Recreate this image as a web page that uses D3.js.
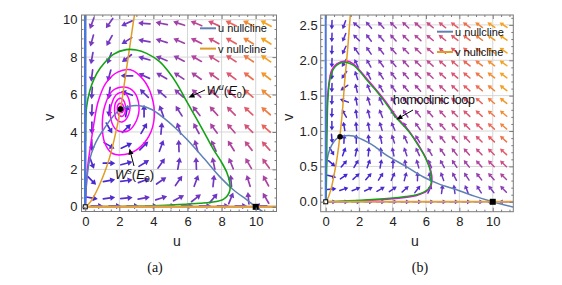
<!DOCTYPE html>
<html>
<head>
<meta charset="utf-8">
<script src="https://cdn.jsdelivr.net/npm/d3@7"></script>
<style>
body { margin: 0; background: #fff; }
svg { display: block; }
text { font-family: "Liberation Sans", Arial, sans-serif; }
</style>
</head>
<body>
<svg id="chart" width="562" height="285"></svg>
<script>
// ---------- panel (a) data ----------
const aColsU = [0.39, 1.41, 2.43, 3.45, 4.47, 5.49, 6.51, 7.53, 8.55, 9.57, 10.59];
const aRowsV = [9.8, 8.87, 7.93, 7.0, 6.07, 5.13, 4.2, 3.27, 2.33, 1.4, 0.47];
// arrow direction in degrees (0 = +u, 90 = +v), one row per aRowsV entry
const aAngles = [
  [250, 235, 205, 175, 168, 162, 158, 156, 154, 153, 152],
  [255, 242, 212, 170, 163, 157, 154, 152, 150, 149, 148],
  [260, 250, 218, 165, 158, 153, 150, 148, 147, 146, 145],
  [263, 255, 180, 155, 150, 147, 145, 144, 143, 142, 142],
  [266, 262, 160, 135, 138, 138, 138, 138, 138, 139, 140],
  [268, 265, 80, 90, 110, 122, 128, 132, 135, 137, 139],
  [270, 300, 45, 60, 85, 108, 118, 126, 131, 135, 138],
  [272, 330, 25, 45, 70, 92, 105, 114, 122, 128, 132],
  [290, 0, 15, 32, 55, 80, 92, 102, 112, 120, 126],
  [315, 10, 8, 20, 35, 55, 70, 84, 95, 107, 118],
  [350, 8, 5, 10, 18, 28, 38, 50, 68, 95, 120]
];
// speed level 0..1 (colour)
const aLevels = [
  [0.35, 0.33, 0.3, 0.35, 0.42, 0.48, 0.57, 0.67, 0.77, 0.87, 0.96],
  [0.33, 0.31, 0.28, 0.33, 0.4, 0.47, 0.55, 0.65, 0.75, 0.85, 0.94],
  [0.31, 0.28, 0.25, 0.31, 0.38, 0.45, 0.53, 0.63, 0.73, 0.83, 0.92],
  [0.28, 0.25, 0.2, 0.28, 0.36, 0.43, 0.51, 0.61, 0.7, 0.8, 0.9],
  [0.25, 0.2, 0.12, 0.22, 0.32, 0.4, 0.48, 0.58, 0.67, 0.77, 0.87],
  [0.22, 0.12, 0.05, 0.14, 0.27, 0.36, 0.45, 0.54, 0.63, 0.73, 0.83],
  [0.18, 0.1, 0.08, 0.13, 0.22, 0.32, 0.41, 0.5, 0.58, 0.67, 0.77],
  [0.15, 0.1, 0.1, 0.15, 0.21, 0.28, 0.36, 0.44, 0.52, 0.6, 0.69],
  [0.12, 0.1, 0.12, 0.17, 0.22, 0.26, 0.31, 0.38, 0.45, 0.53, 0.61],
  [0.1, 0.12, 0.16, 0.2, 0.24, 0.26, 0.28, 0.31, 0.36, 0.44, 0.52],
  [0.1, 0.15, 0.2, 0.24, 0.27, 0.29, 0.29, 0.28, 0.3, 0.36, 0.44]
];
const aBottomU = [0.7, 1.75, 2.8, 3.9, 4.95, 6.0, 7.05, 8.1, 9.15, 10.3];
const aBottomV = 0.05;
const aBottomAngles = [0, 0, 0, 0, 0, 0, 0, 0, 0, 180];
const aBottomLevels = [0.08, 0.13, 0.18, 0.22, 0.25, 0.27, 0.27, 0.25, 0.2, 0.12];

const aUNull = [[0, 0.3], [0.05, 1.0], [0.12, 1.7], [0.27, 2.55], [0.5, 3.2], [0.8, 3.75], [1.2, 4.3],
  [1.6, 4.8], [2.07, 5.22], [2.6, 5.38], [3.2, 5.4], [3.9, 5.2], [4.6, 4.75], [5.3, 4.2], [6.0, 3.57],
  [7.0, 2.55], [7.9, 1.6], [8.7, 0.9], [9.5, 0.36], [10, 0], [10.4, -0.25]];
const aVNull = [[0, 0], [0.2, 0.15], [0.5, 0.55], [0.8, 1.1], [1.1, 1.75], [1.4, 2.55], [1.7, 3.6],
  [2.07, 5.22], [2.25, 6.3], [2.44, 7.5], [2.65, 8.8], [2.86, 10.1], [2.9, 10.3]];
const aUnstable = [[0, 0], [2, 0.02], [4, 0.06], [5.5, 0.12], [6.73, 0.19], [7.6, 0.27], [8.1, 0.4],
  [8.35, 0.6], [8.49, 0.9], [8.45, 1.4], [8.3, 1.85], [7.95, 2.45], [7.5, 3.1], [6.9, 4.1], [6.24, 5.17],
  [5.85, 5.8], [5.36, 6.6], [4.9, 7.2], [4.38, 7.75], [3.6, 8.2], [3.0, 8.38], [2.4, 8.4], [1.65, 8.15],
  [0.87, 7.4], [0.5, 6.8], [0.28, 6.24], [0.08, 5.35], [0.03, 4.5], [0.02, 3.5]];
const aStable = [[2.07, 5.22], [2.12, 5.18], [2.16, 5.28], [2.08, 5.38], [1.99, 5.26], [2.03, 5.08],
  [2.18, 5.05], [2.26, 5.25], [2.16, 5.5], [1.96, 5.5], [1.88, 5.2], [1.97, 4.9], [2.2, 4.85], [2.36, 5.15],
  [2.3, 5.6], [2.08, 5.8], [1.8, 5.6], [1.72, 5.15], [1.85, 4.65], [2.2, 4.55], [2.55, 4.95], [2.6, 5.6],
  [2.35, 6.05], [1.9, 6.05], [1.55, 5.5], [1.5, 4.7], [1.85, 4.1], [2.5, 4.05], [3.0, 4.6], [3.15, 5.4],
  [2.85, 6.15], [2.3, 6.4], [1.6, 6.2], [1.15, 5.4], [1.0, 4.4], [1.15, 3.4], [1.6, 2.85], [2.3, 2.8],
  [3.1, 3.1], [3.75, 3.8], [4.05, 4.8], [3.9, 5.9], [3.4, 6.8], [2.65, 7.32], [1.9, 7.2], [1.2, 6.6],
  [0.75, 5.6], [0.5, 4.4], [0.3, 3.2], [0.15, 2.2], [0.07, 1.2], [0.02, 0.4], [0, 0]];
const aEquilibria = [[2.07, 5.22]];
const aTicksX = [0, 2, 4, 6, 8, 10];
const aTicksY = [0, 2, 4, 6, 8, 10];

// ---------- panel (b) data ----------
const bColsU = [0.37, 1.1, 1.83, 2.57, 3.3, 4.03, 4.77, 5.5, 6.23, 6.97, 7.7, 8.43, 9.17, 9.9, 10.63];
const bRowsV = [2.5, 2.32, 2.14, 1.96, 1.79, 1.61, 1.43, 1.25, 1.07, 0.89, 0.71, 0.54, 0.36, 0.18, 0.0];
const bAngles = [
  [268, 250, 140, 130, 132, 135, 137, 139, 140, 141, 142, 143, 144, 145, 146],
  [268, 248, 135, 127, 130, 133, 136, 138, 140, 141, 142, 143, 144, 145, 146],
  [268, 245, 125, 124, 128, 132, 135, 137, 139, 140, 141, 142, 143, 144, 145],
  [268, 240, 115, 120, 126, 130, 133, 136, 138, 139, 140, 141, 142, 143, 144],
  [268, 235, 108, 116, 123, 128, 132, 135, 137, 138, 139, 140, 141, 142, 143],
  [268, 215, 103, 112, 120, 126, 130, 133, 135, 137, 138, 139, 140, 141, 142],
  [268, 160, 100, 108, 116, 122, 127, 131, 133, 135, 137, 138, 139, 140, 141],
  [268, 120, 98, 104, 112, 119, 124, 128, 131, 133, 135, 137, 138, 139, 140],
  [270, 100, 95, 100, 107, 114, 120, 125, 128, 131, 133, 135, 137, 138, 139],
  [275, 88, 90, 95, 102, 109, 115, 121, 125, 128, 131, 133, 135, 137, 138],
  [300, 70, 78, 85, 93, 102, 109, 115, 120, 125, 128, 131, 133, 135, 137],
  [320, 50, 60, 70, 80, 88, 98, 106, 113, 119, 124, 128, 131, 134, 136],
  [345, 35, 42, 50, 58, 66, 75, 88, 100, 110, 118, 124, 128, 132, 135],
  [5, 18, 22, 26, 30, 35, 42, 52, 65, 82, 98, 112, 122, 128, 134],
  [0, 0, 0, 0, 0, 0, 0, 0, 0, 0, 0, 0, 0, 180, 180]
];
const bLevels = [
  [0.12, 0.2, 0.28, 0.33, 0.38, 0.44, 0.5, 0.56, 0.62, 0.68, 0.74, 0.8, 0.86, 0.92, 0.98],
  [0.12, 0.19, 0.27, 0.32, 0.37, 0.43, 0.49, 0.55, 0.61, 0.67, 0.73, 0.79, 0.85, 0.91, 0.97],
  [0.11, 0.18, 0.25, 0.31, 0.36, 0.42, 0.48, 0.54, 0.6, 0.66, 0.72, 0.78, 0.84, 0.9, 0.96],
  [0.11, 0.17, 0.23, 0.3, 0.35, 0.41, 0.47, 0.53, 0.59, 0.65, 0.71, 0.77, 0.83, 0.89, 0.95],
  [0.1, 0.16, 0.21, 0.28, 0.34, 0.4, 0.46, 0.52, 0.58, 0.64, 0.7, 0.76, 0.82, 0.88, 0.94],
  [0.1, 0.14, 0.19, 0.26, 0.32, 0.38, 0.44, 0.5, 0.56, 0.62, 0.68, 0.74, 0.8, 0.86, 0.92],
  [0.09, 0.12, 0.17, 0.24, 0.3, 0.36, 0.42, 0.48, 0.54, 0.6, 0.66, 0.72, 0.78, 0.84, 0.9],
  [0.09, 0.1, 0.15, 0.22, 0.28, 0.34, 0.4, 0.46, 0.52, 0.58, 0.64, 0.7, 0.76, 0.82, 0.88],
  [0.08, 0.08, 0.13, 0.19, 0.25, 0.31, 0.37, 0.43, 0.49, 0.55, 0.61, 0.67, 0.73, 0.79, 0.85],
  [0.08, 0.06, 0.1, 0.16, 0.22, 0.28, 0.34, 0.4, 0.46, 0.52, 0.58, 0.63, 0.69, 0.75, 0.81],
  [0.07, 0.06, 0.09, 0.13, 0.18, 0.24, 0.3, 0.35, 0.41, 0.46, 0.52, 0.57, 0.63, 0.68, 0.74],
  [0.06, 0.06, 0.08, 0.11, 0.15, 0.2, 0.25, 0.3, 0.34, 0.39, 0.44, 0.49, 0.54, 0.59, 0.64],
  [0.05, 0.06, 0.08, 0.1, 0.13, 0.16, 0.2, 0.24, 0.27, 0.31, 0.35, 0.39, 0.43, 0.47, 0.52],
  [0.04, 0.06, 0.08, 0.1, 0.12, 0.14, 0.16, 0.18, 0.2, 0.23, 0.26, 0.29, 0.32, 0.35, 0.4],
  [0.03, 0.06, 0.08, 0.1, 0.12, 0.14, 0.16, 0.18, 0.19, 0.2, 0.2, 0.19, 0.17, 0.12, 0.15]
];
const bUNull = [[0, 0.42], [0.06, 0.55], [0.16, 0.68], [0.36, 0.8], [0.6, 0.88], [0.86, 0.92], [1.2, 0.935],
  [1.65, 0.93], [2.53, 0.84], [3.0, 0.77], [3.63, 0.66], [4.8, 0.5], [5.85, 0.35], [6.8, 0.25],
  [7.84, 0.17], [8.9, 0.08], [10, 0], [11.3, -0.08]];
const bVNull = [[0, 0], [0.15, 0.06], [0.34, 0.2], [0.5, 0.38], [0.66, 0.59], [0.84, 0.91], [1.0, 1.28],
  [1.14, 1.71], [1.3, 2.12], [1.44, 2.54], [1.48, 2.66]];
const bLoopGreen = [[0, 0], [0.5, 0.005], [1.86, 0.02], [3.0, 0.035], [3.85, 0.05], [4.8, 0.075], [5.45, 0.1],
  [5.9, 0.14], [6.14, 0.18], [6.3, 0.25], [6.33, 0.32], [6.25, 0.45], [6.05, 0.58], [5.84, 0.68],
  [5.45, 0.83], [5.05, 0.97], [4.65, 1.08], [4.25, 1.18], [3.85, 1.31], [3.45, 1.44], [2.95, 1.59],
  [2.46, 1.72], [2.05, 1.84], [1.65, 1.93], [1.26, 1.97], [0.95, 1.97], [0.66, 1.93], [0.45, 1.87],
  [0.3, 1.78], [0.2, 1.65], [0.12, 1.4], [0.09, 1.1], [0.07, 0.8], [0.06, 0.5], [0.04, 0.25],
  [0.02, 0.08], [0, 0]];
const bLoopMagenta = [[0, 0], [0.5, 0], [1.86, 0.01], [3.85, 0.04], [5.45, 0.09], [6.2, 0.18], [6.36, 0.3],
  [6.28, 0.45], [5.86, 0.68], [5.05, 0.98], [4.25, 1.2], [3.45, 1.46], [2.46, 1.74], [1.65, 1.95],
  [1.26, 1.99], [0.66, 1.95], [0.36, 1.86], [0.18, 1.65], [0.08, 1.35], [0.04, 1.0], [0.03, 0.5],
  [0.01, 0.1], [0, 0]];
const bEquilibria = [[0.86, 0.92]];
const bTicksX = [0, 2, 4, 6, 8, 10];
const bTicksY = [0, 0.5, 1.0, 1.5, 2.0, 2.5];

const svg = d3.select("#chart");

const speedColor = d3.scaleLinear()
  .domain([0, 0.3, 0.55, 0.75, 0.93])
  .range(["#3322d8", "#7138c2", "#b5459d", "#e75d64", "#f5a31f"])
  .clamp(true);

let clipId = 0;

function drawPanel(p) {
  const x = d3.scaleLinear().domain(p.udom).range([p.left, p.right]);
  const y = d3.scaleLinear().domain(p.vdom).range([p.bottom, p.top]);
  const g = svg.append("g");

  const id = "clip" + (clipId++);
  g.append("clipPath").attr("id", id).append("rect")
    .attr("x", p.left).attr("y", p.top)
    .attr("width", p.right - p.left).attr("height", p.bottom - p.top);

  const plot = g.append("g").attr("clip-path", `url(#${id})`);

  // grid lines
  plot.selectAll(".gx").data(p.ticksX).enter().append("line")
    .attr("x1", d => x(d)).attr("x2", d => x(d))
    .attr("y1", p.top).attr("y2", p.bottom)
    .attr("stroke", "#d6d6d6").attr("stroke-width", 1);
  plot.selectAll(".gy").data(p.ticksY).enter().append("line")
    .attr("y1", d => y(d)).attr("y2", d => y(d))
    .attr("x1", p.left).attr("x2", p.right)
    .attr("stroke", "#d6d6d6").attr("stroke-width", 1);

  // vector field
  const arrows = [];
  p.rowsV.forEach((v, i) => {
    p.colsU.forEach((u, j) => {
      arrows.push({u: u, v: v, a: p.angles[i][j], s: p.levels[i][j]});
    });
  });
  if (p.extra) arrows.push(...p.extra);

  const L = p.arrowLen, H = p.headLen, W = p.headW;
  const field = plot.append("g");
  arrows.forEach(d => {
    const cx = x(d.u), cy = y(d.v);
    const t = d.a * Math.PI / 180;
    const dx = Math.cos(t), dy = -Math.sin(t);
    const x0 = cx - dx * L / 2, y0 = cy - dy * L / 2;
    const x1 = cx + dx * L / 2, y1 = cy + dy * L / 2;
    const bx = x1 - dx * H, by = y1 - dy * H;
    const c = speedColor(d.s);
    field.append("line")
      .attr("x1", x0).attr("y1", y0).attr("x2", bx).attr("y2", by)
      .attr("stroke", c).attr("stroke-width", p.arrowW).attr("stroke-linecap", "round");
    field.append("path")
      .attr("d", `M${x1},${y1}L${bx - dy * W},${by + dx * W}L${bx + dy * W},${by - dx * W}Z`)
      .attr("fill", c);
  });

  const line = d3.line().x(d => x(d[0])).y(d => y(d[1])).curve(d3.curveCatmullRom.alpha(0.5));

  p.curves.forEach(c => {
    plot.append("path").datum(c.data).attr("d", line)
      .attr("fill", "none").attr("stroke", c.color).attr("stroke-width", c.width)
      .attr("stroke-linejoin", "round");
  });

  // trivial nullclines u = 0 and v = 0
  plot.append("line")
    .attr("x1", x(0)).attr("x2", x(0)).attr("y1", y(0)).attr("y2", p.top)
    .attr("stroke", "#4a78d8").attr("stroke-width", p.axisLineW);
  plot.append("line")
    .attr("x1", x(0)).attr("x2", p.right).attr("y1", y(0)).attr("y2", y(0))
    .attr("stroke", "#dea04a").attr("stroke-width", p.axisLineW);

  // equilibria
  plot.selectAll(".eq").data(p.equilibria).enter().append("circle")
    .attr("cx", d => x(d[0])).attr("cy", d => y(d[1])).attr("r", 2.8).attr("fill", "#000");
  plot.append("rect").attr("x", x(10) - 3).attr("y", y(0) - 3).attr("width", 6).attr("height", 6)
    .attr("fill", "#000");
  plot.append("rect").attr("x", x(0) - 2).attr("y", y(0) - 2).attr("width", 4).attr("height", 4)
    .attr("fill", "#fff").attr("stroke", "#000").attr("stroke-width", 1);

  // frame and ticks
  const frameColor = "#7a7a7a";
  const minorX = d3.range(0, 11.01, 0.5).filter(d => !p.ticksX.includes(d));
  const minorY = d3.range(0, p.vdom[1], p.minorStepY).map(d => +d.toFixed(3))
    .filter(d => !p.ticksY.some(t => Math.abs(t - d) < 1e-6));

  function styleAxis(sel) {
    sel.select(".domain").remove();
    sel.selectAll(".tick line").attr("stroke", frameColor);
    sel.selectAll("text").attr("fill", "#222").attr("font-size", 13);
  }

  const bottomG = g.append("g").attr("transform", `translate(0,${p.bottom})`)
    .call(d3.axisBottom(x).tickValues(p.ticksX).tickSize(-4).tickPadding(5).tickFormat(p.fmtX));
  styleAxis(bottomG);
  const bottomMinor = g.append("g").attr("transform", `translate(0,${p.bottom})`)
    .call(d3.axisBottom(x).tickValues(minorX).tickSize(-2).tickFormat(""));
  styleAxis(bottomMinor);
  const topG = g.append("g").attr("transform", `translate(0,${p.top})`)
    .call(d3.axisTop(x).tickValues(p.ticksX).tickSize(-4).tickFormat(""));
  styleAxis(topG);
  const topMinor = g.append("g").attr("transform", `translate(0,${p.top})`)
    .call(d3.axisTop(x).tickValues(minorX).tickSize(-2).tickFormat(""));
  styleAxis(topMinor);

  const leftG = g.append("g").attr("transform", `translate(${p.left},0)`)
    .call(d3.axisLeft(y).tickValues(p.ticksY).tickSize(-4).tickPadding(p.padY).tickFormat(p.fmtY));
  styleAxis(leftG);
  const leftMinor = g.append("g").attr("transform", `translate(${p.left},0)`)
    .call(d3.axisLeft(y).tickValues(minorY).tickSize(-2).tickFormat(""));
  styleAxis(leftMinor);
  const rightG = g.append("g").attr("transform", `translate(${p.right},0)`)
    .call(d3.axisRight(y).tickValues(p.ticksY).tickSize(-4).tickFormat(""));
  styleAxis(rightG);
  const rightMinor = g.append("g").attr("transform", `translate(${p.right},0)`)
    .call(d3.axisRight(y).tickValues(minorY).tickSize(-2).tickFormat(""));
  styleAxis(rightMinor);

  g.append("rect").attr("x", p.left).attr("y", p.top)
    .attr("width", p.right - p.left).attr("height", p.bottom - p.top)
    .attr("fill", "none").attr("stroke", frameColor).attr("stroke-width", 1);

  // axis titles
  g.append("text").attr("x", (p.left + p.right) / 2 - 2).attr("y", p.bottom + 34)
    .attr("text-anchor", "middle").attr("font-size", 14).attr("fill", "#222").text("u");
  g.append("text").attr("transform", `translate(${p.vLabelX},${(p.top + p.bottom) / 2 + 4}) rotate(-90)`)
    .attr("text-anchor", "middle").attr("font-size", 14).attr("fill", "#222").text("v");

  // caption
  g.append("text").attr("x", p.captionX).attr("y", 272)
    .attr("text-anchor", "middle").attr("font-size", 14)
    .style("font-family", "'Liberation Serif', 'Times New Roman', serif").attr("fill", "#111")
    .text(p.caption);

  // legend
  const leg = [{label: "u nullcline", color: "#5e81b5"}, {label: "v nullcline", color: "#e19c24"}];
  leg.forEach((d, i) => {
    const ly = p.legY + i * 20.3;
    g.append("line").attr("x1", p.legX).attr("x2", p.legX + 16).attr("y1", ly).attr("y2", ly)
      .attr("stroke", d.color).attr("stroke-width", 2);
    g.append("text").attr("x", p.legX + 18).attr("y", ly + 4).attr("font-size", 11)
      .attr("fill", "#111").text(d.label);
  });

  return {g, x, y};
}

function pointer(g, x1, y1, x2, y2) {
  const t = Math.atan2(y2 - y1, x2 - x1);
  const H = 6, W = 2.6;
  const bx = x2 - Math.cos(t) * H, by = y2 - Math.sin(t) * H;
  g.append("line").attr("x1", x1).attr("y1", y1).attr("x2", bx).attr("y2", by)
    .attr("stroke", "#000").attr("stroke-width", 1);
  g.append("path")
    .attr("d", `M${x2},${y2}L${bx - Math.sin(t) * W},${by + Math.cos(t) * W}L${bx + Math.sin(t) * W},${by - Math.cos(t) * W}Z`)
    .attr("fill", "#000");
}

function manifoldLabel(g, xPos, yPos, sup) {
  const t = g.append("text").attr("x", xPos).attr("y", yPos).attr("font-size", 13).attr("fill", "#111");
  t.append("tspan").attr("font-style", "italic").text("W");
  t.append("tspan").attr("dy", -5).attr("font-size", 9).attr("font-style", "italic").text(sup);
  t.append("tspan").attr("dy", 5).text("(");
  t.append("tspan").attr("font-style", "italic").text("E");
  t.append("tspan").attr("dy", 3).attr("font-size", 9).text("0");
  t.append("tspan").attr("dy", -3).text(")");
}

// ---------- panel (a) ----------
const A = drawPanel({
  left: 81.5, right: 276.5, top: 15, bottom: 211.5,
  udom: [-0.22, 11.22], vdom: [-0.25, 10.25],
  colsU: aColsU, rowsV: aRowsV, angles: aAngles, levels: aLevels,
  extra: aBottomU.map((u, i) => ({u: u, v: aBottomV, a: aBottomAngles[i], s: aBottomLevels[i]})),
  arrowLen: 12, headLen: 5, headW: 3, arrowW: 1.7, axisLineW: 2.5,
  curves: [
    {data: aStable, color: "#ff00ff", width: 1.5},
    {data: aUNull, color: "#5e81b5", width: 1.5},
    {data: aVNull, color: "#e19c24", width: 1.5},
    {data: aUnstable, color: "#13a313", width: 1.6}
  ],
  equilibria: aEquilibria,
  ticksX: aTicksX, ticksY: aTicksY, minorStepY: 0.5,
  fmtX: d3.format("d"), fmtY: d3.format("d"), padY: 4,
  vLabelX: 54, caption: "(a)", captionX: 155,
  legX: 200, legY: 28.3
});
pointer(A.g, 205, 90, 188.5, 97.5);
manifoldLabel(A.g, 206.5, 95, "u");
pointer(A.g, 134, 166, 129.5, 148.5);
manifoldLabel(A.g, 115, 179, "s");

// ---------- panel (b) ----------
const B = drawPanel({
  left: 320.7, right: 513.3, top: 15, bottom: 211.7,
  udom: [-0.3, 11.23], vdom: [-0.14, 2.64],
  colsU: bColsU, rowsV: bRowsV, angles: bAngles, levels: bLevels,
  arrowLen: 9, headLen: 4, headW: 2.4, arrowW: 1.5, axisLineW: 2,
  curves: [
    {data: bLoopMagenta, color: "#ff00ff", width: 1.5},
    {data: bUNull, color: "#5e81b5", width: 1.5},
    {data: bVNull, color: "#e19c24", width: 1.5},
    {data: bLoopGreen, color: "#13a313", width: 1.5}
  ],
  equilibria: bEquilibria,
  ticksX: bTicksX, ticksY: bTicksY, minorStepY: 0.1,
  fmtX: d3.format("d"), fmtY: d3.format(".1f"), padY: 3,
  vLabelX: 293, caption: "(b)", captionX: 420,
  legX: 437, legY: 31.7
});
pointer(B.g, 413, 110, 396.5, 119.5);
B.g.append("text").attr("x", 393).attr("y", 104).attr("font-size", 12.5).attr("letter-spacing", -0.3)
  .attr("fill", "#111").text("homoclinic loop");
</script>
</body>
</html>
